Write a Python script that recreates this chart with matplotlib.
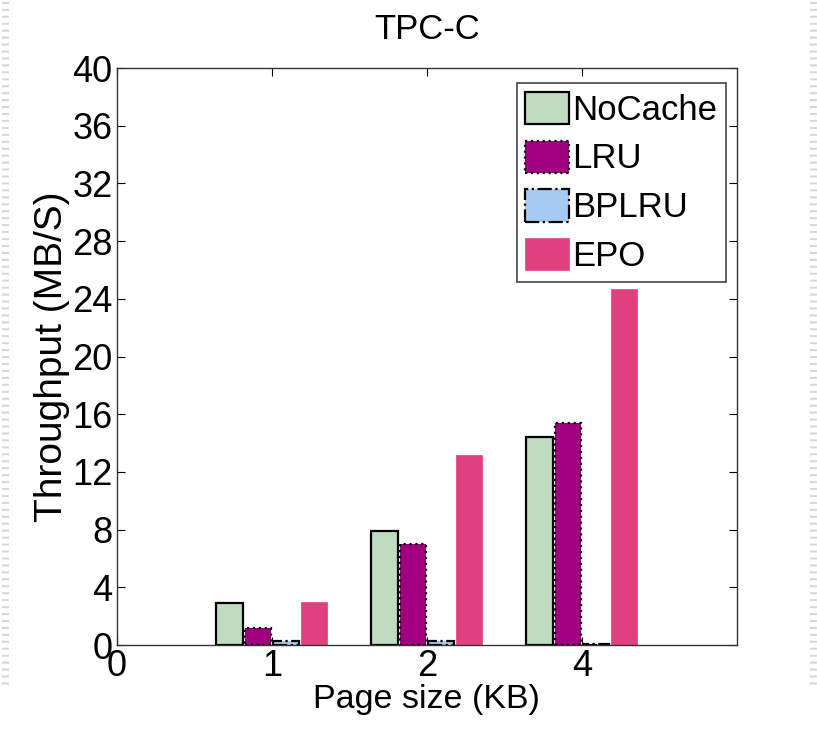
import numpy as np
import matplotlib
matplotlib.use("Agg")
from matplotlib import pyplot as plt
from matplotlib.lines import Line2D

plt.rcParams['font.family'] = ['Liberation Sans', 'DejaVu Sans']

# data
page_sizes = ['1', '2', '4']
series = ['NoCache', 'LRU', 'BPLRU', 'EPO']
nocache = [2.9, 7.9, 14.4]
lru = [1.2, 7.0, 15.4]
bplru = [0.25, 0.25, 0.1]
epo = [3.0, 13.2, 24.7]

fig = plt.figure(figsize=(8.17, 7.36), dpi=100)
ax = fig.add_axes([0.143, 0.1236, 0.759, 0.784])

X = np.arange(len(page_sizes)) + 1
w = 0.17
offs = [-0.273, -0.091, 0.091, 0.273]

ax.bar(X + offs[0], nocache, w, facecolor='#c0dcc0', edgecolor='black', lw=1.6, ls='-', label=series[0])
ax.bar(X + offs[1], lru, w, facecolor='#a0007f', edgecolor='black', lw=1.6, ls=':', label=series[1])
ax.bar(X + offs[2], bplru, w, facecolor='#a6caf0', edgecolor='black', lw=1.6, ls='-.', label=series[2])
ax.bar(X + offs[3], epo, w, facecolor='#e0407e', edgecolor='#e0407e', lw=0.5, label=series[3])

ax.set_xlim(0, 4)
ax.set_ylim(0, 40)
ax.set_yticks(np.arange(0, 41, 4))
ax.set_xticks([0, 1, 2, 3])
ax.set_xticklabels(['0'] + page_sizes)
ax.tick_params(direction='in', labelsize=26, length=6, top=True, right=True, width=0.8, pad=3)
for s in ax.spines.values():
    s.set_linewidth(1.0)
    s.set_color('#333333')

ax.set_xlabel('Page size (KB)', fontsize=24.5, labelpad=0)
ax.set_ylabel('Throughput (MB/S)', fontsize=28, labelpad=2)
ax.set_title('TPC-C', fontsize=25, pad=21)

leg = ax.legend(loc='upper right', fontsize=25, fancybox=False, framealpha=1,
                edgecolor='#444444', borderpad=0.25, labelspacing=0.4,
                handlelength=1.25, handleheight=1.05, handletextpad=0.1,
                borderaxespad=0, bbox_to_anchor=(0.982, 0.974))
leg.get_frame().set_linewidth(1.2)

# slide decoration on the edges
fig.add_artist(Line2D([0.995, 0.995], [0.07, 1.0], color='#d8d8d8', lw=5,
                      ls=(0, (0.3, 0.7)), transform=fig.transFigure))
fig.add_artist(Line2D([0.006, 0.006], [0.07, 1.0], color='#d8d8d8', lw=5,
                      ls=(0, (0.3, 0.7)), transform=fig.transFigure))

plt.savefig('out.png', dpi=100)
